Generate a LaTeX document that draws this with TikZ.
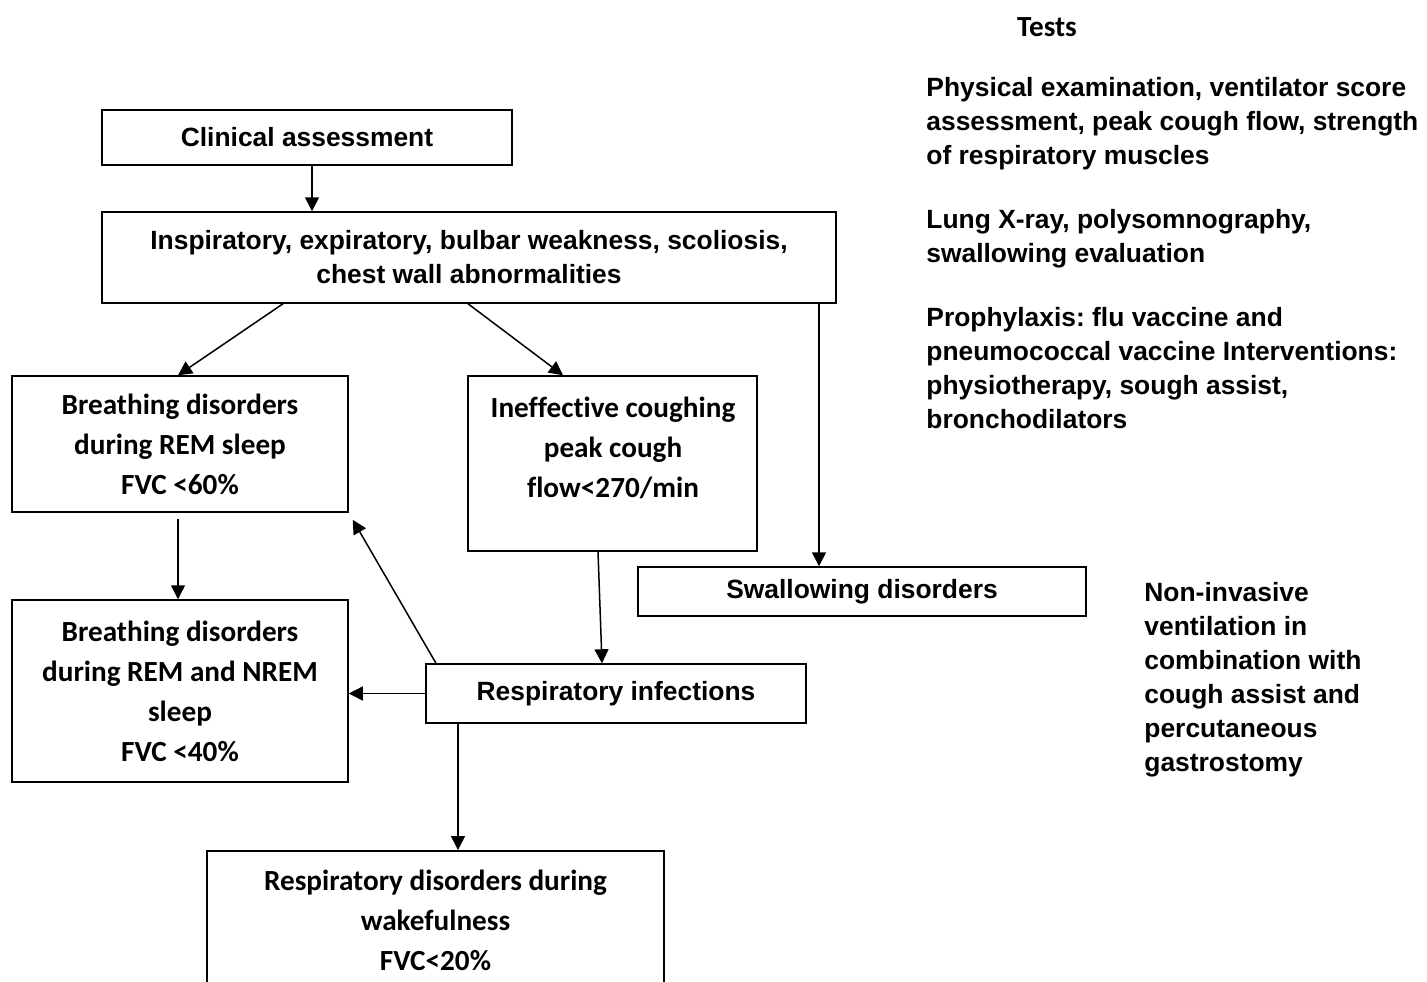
\documentclass[tikz,border=0pt]{standalone}
\usepackage{fontspec}
\setmainfont{Liberation Sans}
\newfontfamily\calib[Ligatures=NoCommon]{Carlito}
\frenchspacing
\usetikzlibrary{arrows.meta}
\tikzset{
	box/.style={draw, line width=0.75pt, inner sep=0pt, align=center},
	arial/.style={font=\fontsize{13.2}{17}\selectfont\bfseries},
	calibri/.style={font=\calib\fontsize{14.6}{20}\selectfont\bfseries},
	side/.style={arial, align=left, anchor=west, inner sep=0pt},
	arr/.style={-{Triangle[length=7pt,width=7pt]}, line width=0.75pt}
}
\begin{document}
\begin{tikzpicture}[x=0.5pt,y=-0.5pt]
			\useasboundingbox (0,0) rectangle (1427,981);
			\node[box,arial,minimum width=205pt,minimum height=27.5pt] (clin) at (307,137.5) {Clinical assessment};
			\node[box,arial,minimum width=367pt,minimum height=45.5pt] (weak) at (469,257.5) {Inspiratory, expiratory, bulbar weakness, scoliosis,\\chest wall abnormalities};
			\node[box,calibri,minimum width=168pt,minimum height=68pt] (rem) at (180,444) {Breathing disorders\\during REM sleep\\FVC <60\%};
			\node[box,minimum width=144.5pt,minimum height=87.5pt] (cough) at (612.5,463.5) {};
			\node[calibri,align=center] (coughtxt) at (613,448) {Ineffective coughing\\peak cough\\flow<270/min};
			\node[box,arial,minimum width=224pt,minimum height=24.5pt] (swal) at (862,591.5) {Swallowing disorders};
			\node[box,calibri,minimum width=168pt,minimum height=91pt] (nrem) at (180,691) {Breathing disorders\\during REM and NREM\\sleep\\FVC <40\%};
			\node[box,arial,minimum width=190pt,minimum height=29.5pt] (infect) at (616,693.5) {Respiratory infections};
			\node[box,minimum width=228.5pt,minimum height=75pt,anchor=north] (wake) at (435.5,850) {};
			\node[calibri,align=center] (waketxt) at (435.5,920) {Respiratory disorders during\\wakefulness\\FVC<20\%};
			\node[calibri] (tests) at (1047,27) {Tests};
			\node[side] (testa) at (926,124) {Physical examination, ventilator score\\assessment, peak cough flow, strength\\of respiratory muscles};
			\node[side] (testb) at (926,239) {Lung X-ray, polysomnography,\\swallowing evaluation};
			\node[side] (testc) at (926,368) {Prophylaxis: flu vaccine and\\pneumococcal vaccine Interventions:\\physiotherapy, sough assist,\\bronchodilators};
			\node[side] (niv) at (1144,680) {Non-invasive\\ventilation in\\combination with\\cough assist and\\percutaneous\\gastrostomy};
			\draw[arr] (312,0 |- clin.south) -- (312,0 |- weak.north);
			\draw[arr] (283,0 |- weak.south) -- (178,0 |- rem.north);
			\draw[arr] (468,0 |- weak.south) -- (563,0 |- cough.north);
			\draw[arr] (819,0 |- weak.south) -- (819,0 |- swal.north);
			\draw[arr,shorten <=3pt] (178,0 |- rem.south) -- (178,0 |- nrem.north);
			\draw[arr] (598,0 |- cough.south) -- (602,0 |- infect.north);
			\draw[arr] (infect.west) -- (infect.west -| nrem.east);
			\draw[arr] (436,0 |- infect.north) -- ([shift={(2pt,-3.5pt)}]rem.south east);
			\draw[arr] (458,0 |- infect.south) -- (458,0 |- wake.north);
		\end{tikzpicture}
\end{document}
